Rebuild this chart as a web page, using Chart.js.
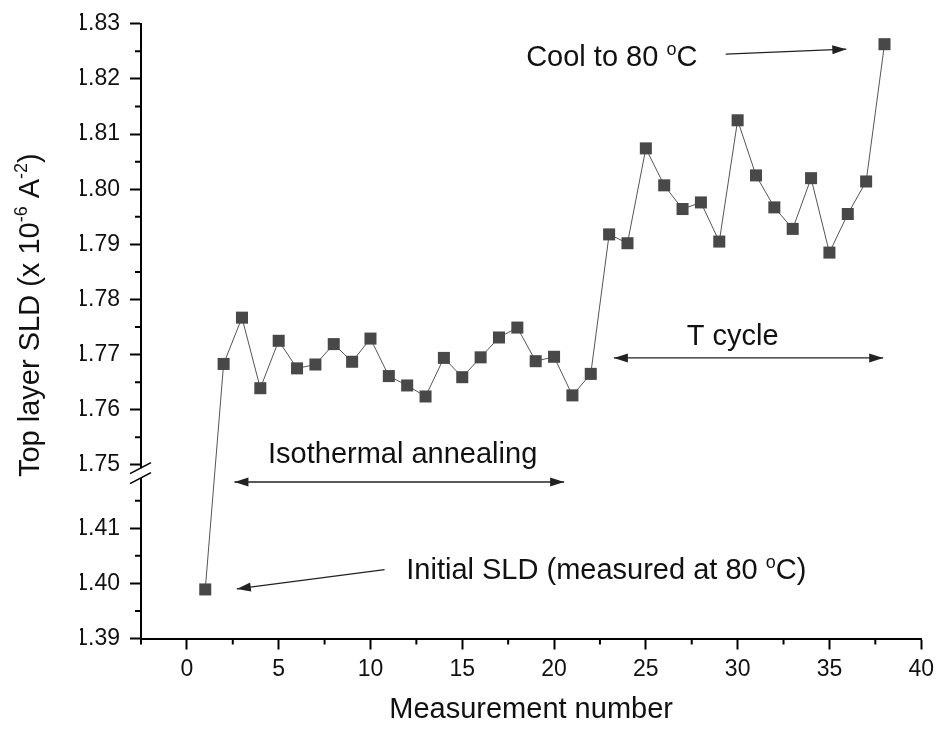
<!DOCTYPE html>
<html>
<head>
<meta charset="utf-8">
<script src="https://cdn.jsdelivr.net/npm/chart.js@4.4.1/dist/chart.umd.min.js"></script>
<style>
  html, body { margin: 0; padding: 0; background: #fff; }
</style>
</head>
<body>
<canvas id="sldChart" width="940" height="730"></canvas>
<script>
const FONT = '"Liberation Sans", Arial, sans-serif';

// data
const measurementNumber = [1, 2, 3, 4, 5, 6, 7, 8, 9, 10, 11, 12, 13, 14, 15, 16, 17, 18, 19,
  20, 21, 22, 23, 24, 25, 26, 27, 28, 29, 30, 31, 32, 33, 34, 35, 36, 37, 38];
const topLayerSLD = [1.3989, 1.7683, 1.7767, 1.7639, 1.7725, 1.7675, 1.7682, 1.7719, 1.7687,
  1.7729, 1.7661, 1.7644, 1.7624, 1.7694, 1.7659, 1.7695, 1.7731, 1.7749, 1.7688, 1.7696,
  1.7626, 1.7665, 1.7918, 1.7902, 1.8074, 1.8007, 1.7964, 1.7976, 1.7905, 1.8125, 1.8025,
  1.7967, 1.7928, 1.8020, 1.7885, 1.7955, 1.8014, 1.8263];

const xTickValues = [0, 5, 10, 15, 20, 25, 30, 35, 40];
const xMinorTicks = [-2.5, 2.5, 7.5, 12.5, 17.5, 22.5, 27.5, 32.5, 37.5];
const yTicksLower = [1.39, 1.40, 1.41];
const yTicksUpper = [1.75, 1.76, 1.77, 1.78, 1.79, 1.80, 1.81, 1.82, 1.83];
const yMinorLower = [1.395, 1.405, 1.415];
const yMinorUpper = [1.755, 1.765, 1.775, 1.785, 1.795, 1.805, 1.815, 1.825];

// broken y axis: 1.39-1.42 below the break, 1.75-1.83 above it
const LOWER_TOP = 1.42;
const UPPER_BOTTOM = 1.75;
const BREAK_GAP = 0.0015;
const OFFSET = UPPER_BOTTOM - BREAK_GAP - LOWER_TOP;
const toVirtual = v => (v < 1.6 ? v + OFFSET : v);
const toReal = v => (v < UPPER_BOTTOM - BREAK_GAP / 2 ? v - OFFSET : v);

// annotations (x in measurement units, y in SLD units)
const noteTexts = [
  { parts: [{ t: 'Cool to 80 ' }, { t: 'o', sup: true }, { t: 'C' }], x: 18.48, y: 1.8242 },
  { parts: [{ t: 'T cycle' }], x: 27.23, y: 1.7737 },
  { parts: [{ t: 'Isothermal annealing' }], x: 4.42, y: 1.7523 },
  { parts: [{ t: 'Initial SLD (measured at 80 ' }, { t: 'o', sup: true }, { t: 'C)' }], x: 11.95, y: 1.4026 },
];
const noteArrows = [
  { from: [29.35, 1.8245], to: [35.92, 1.8254], both: false },
  { from: [23.26, 1.7694], to: [37.93, 1.7694], both: true },
  { from: [2.59, 1.4184], to: [20.55, 1.4184], both: true },
  { from: [10.77, 1.4025], to: [2.72, 1.3990], both: false },
];

function drawRich(ctx, parts, x, y, size) {
  const supSize = Math.round(size * 0.62);
  ctx.textAlign = 'left';
  ctx.textBaseline = 'alphabetic';
  let cx = x;
  for (const p of parts) {
    ctx.font = (p.sup ? supSize : size) + 'px ' + FONT;
    ctx.fillText(p.t, cx, p.sup ? y - size * 0.4 : y);
    cx += ctx.measureText(p.t).width;
  }
}

function richWidth(ctx, parts, size) {
  const supSize = Math.round(size * 0.62);
  let w = 0;
  for (const p of parts) {
    ctx.font = (p.sup ? supSize : size) + 'px ' + FONT;
    w += ctx.measureText(p.t).width;
  }
  return w;
}

function arrowHead(ctx, x1, y1, x2, y2) {
  const a = Math.atan2(y2 - y1, x2 - x1);
  const len = 14, hw = 4.5;
  ctx.beginPath();
  ctx.moveTo(x2, y2);
  ctx.lineTo(x2 - len * Math.cos(a) + hw * Math.sin(a), y2 - len * Math.sin(a) - hw * Math.cos(a));
  ctx.lineTo(x2 - len * Math.cos(a) - hw * Math.sin(a), y2 - len * Math.sin(a) + hw * Math.cos(a));
  ctx.closePath();
  ctx.fill();
}

const extras = {
  id: 'extras',
  afterDraw(chart) {
    const ctx = chart.ctx;
    const xs = chart.scales.x, ys = chart.scales.y;
    const area = chart.chartArea;
    ctx.save();
    ctx.strokeStyle = '#000';
    ctx.lineWidth = 2;

    // minor ticks
    ctx.beginPath();
    for (const v of xMinorTicks) {
      const px = xs.getPixelForValue(v);
      ctx.moveTo(px, area.bottom);
      ctx.lineTo(px, area.bottom + 6);
    }
    for (const v of yMinorLower.concat(yMinorUpper)) {
      const py = ys.getPixelForValue(toVirtual(v));
      ctx.moveTo(area.left, py);
      ctx.lineTo(area.left - 6, py);
    }
    ctx.stroke();

    // axis break
    const yb = ys.getPixelForValue(toVirtual(LOWER_TOP));
    ctx.fillStyle = '#fff';
    ctx.fillRect(area.left - 3, yb - 5, 6, 10);
    ctx.lineWidth = 1.6;
    ctx.beginPath();
    for (const d of [-5, 5]) {
      ctx.moveTo(area.left - 11, yb + d + 5.5);
      ctx.lineTo(area.left + 10, yb + d - 5.5);
    }
    ctx.stroke();

    // annotation arrows
    ctx.strokeStyle = '#222';
    ctx.fillStyle = '#222';
    ctx.lineWidth = 1.4;
    for (const a of noteArrows) {
      const x1 = xs.getPixelForValue(a.from[0]), y1 = ys.getPixelForValue(toVirtual(a.from[1]));
      const x2 = xs.getPixelForValue(a.to[0]), y2 = ys.getPixelForValue(toVirtual(a.to[1]));
      ctx.beginPath();
      ctx.moveTo(x1, y1);
      ctx.lineTo(x2, y2);
      ctx.stroke();
      arrowHead(ctx, x1, y1, x2, y2);
      if (a.both) arrowHead(ctx, x2, y2, x1, y1);
    }

    // annotation texts (y is the middle of the capitals)
    ctx.fillStyle = '#111';
    for (const n of noteTexts) {
      const px = xs.getPixelForValue(n.x);
      const py = ys.getPixelForValue(toVirtual(n.y));
      drawRich(ctx, n.parts, px, py + 29 * 0.358, 29);
    }

    // y axis title with superscripts
    const yTitle = [{ t: 'Top layer SLD (x 10' }, { t: '-6', sup: true }, { t: ' A' }, { t: '-2', sup: true }, { t: ')' }];
    const w = richWidth(ctx, yTitle, 29);
    ctx.translate(38.5, (area.top + area.bottom) / 2 - 16);
    ctx.rotate(-Math.PI / 2);
    drawRich(ctx, yTitle, -w / 2, 0, 29);
    ctx.restore();
  }
};

new Chart('sldChart', {
  type: 'line',
  data: {
    datasets: [{
      label: 'Top layer SLD',
      data: measurementNumber.map((m, i) => ({ x: m, y: toVirtual(topLayerSLD[i]) })),
      borderColor: '#555',
      borderWidth: 1,
      pointStyle: 'rect',
      pointRadius: 8.5,
      pointBackgroundColor: '#484848',
      pointBorderWidth: 0,
      tension: 0,
      clip: false,
    }],
  },
  options: {
    responsive: false,
    animation: false,
    devicePixelRatio: 1,
    layout: { padding: { left: 80, top: 20, right: 17, bottom: 0 } },
    plugins: {
      legend: { display: false },
      tooltip: { enabled: false },
    },
    scales: {
      x: {
        type: 'linear',
        min: -2.5,
        max: 40,
        afterBuildTicks: s => { s.ticks = xTickValues.map(v => ({ value: v })); },
        afterFit: s => { s.height = 91.5; },
        grid: { drawOnChartArea: false, drawTicks: true, tickLength: 11, tickWidth: 2, tickColor: '#000' },
        border: { display: true, color: '#000', width: 2 },
        ticks: { color: '#111', padding: 6, font: { family: FONT, size: 23 }, maxRotation: 0 },
        title: {
          display: true,
          text: 'Measurement number',
          color: '#111',
          font: { family: FONT, size: 29 },
          padding: { top: 0, bottom: 3 },
        },
      },
      y: {
        type: 'linear',
        min: toVirtual(1.39),
        max: 1.83,
        afterBuildTicks: s => { s.ticks = yTicksLower.concat(yTicksUpper).map(v => ({ value: toVirtual(v) })); },
        afterFit: s => { s.width = 61; },
        grid: { drawOnChartArea: false, drawTicks: true, tickLength: 11, tickWidth: 2, tickColor: '#000' },
        border: { display: true, color: '#000', width: 2 },
        ticks: {
          color: '#111',
          padding: 10,
          font: { family: FONT, size: 23 },
          callback: v => toReal(v).toFixed(2),
        },
      },
    },
  },
  plugins: [extras],
});
</script>
</body>
</html>
